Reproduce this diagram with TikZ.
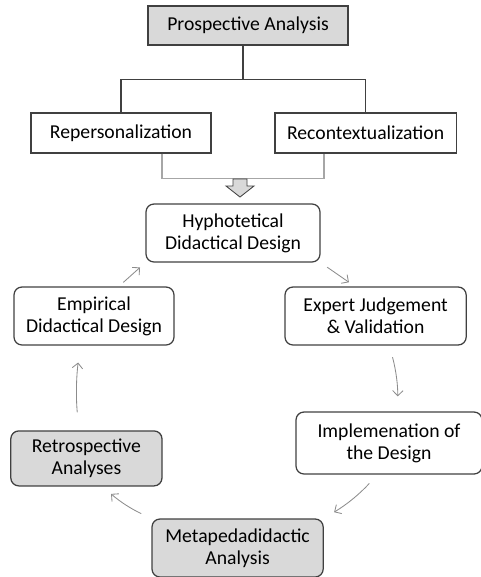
\documentclass[tikz,border=0pt]{standalone}
\usepackage{fontspec}
\setmainfont{Carlito}
\usetikzlibrary{arrows.meta}
\definecolor{boxline}{HTML}{404040}
\definecolor{boxfill}{HTML}{D9D9D9}
\definecolor{flowgray}{HTML}{8C8C8C}
\definecolor{joingray}{HTML}{A6A6A6}
\tikzset{
    plainbox/.style={draw=boxline,line width=0.9pt,align=center,inner sep=2pt,font=\fontsize{14}{15.5}\selectfont},
    roundbox/.style={plainbox,rounded corners=0.2cm},
    flow/.style={draw=flowgray,line width=0.6pt,-{Straight Barb[length=1.3mm,width=2.6mm]}}
}
\begin{document}
\begin{tikzpicture}
                \useasboundingbox (0,0) rectangle (12,-14.425);
                \node[plainbox,fill=boxfill,minimum width=5cm,minimum height=0.975cm] (pros) at (6.2,-0.64) {Prospective Analysis};
                \node[plainbox,minimum width=4.5cm,minimum height=1cm] (rep) at (3.025,-3.325) {Repersonalization};
                \node[plainbox,minimum width=4.53cm,minimum height=1cm] (rec) at (9.14,-3.325) {Recontextualization};
                \node[roundbox,minimum width=4.35cm,minimum height=1.45cm] (hyp) at (5.825,-5.825) {Hyphotetical\\Didactical Design};
                \node[roundbox,minimum width=4cm,minimum height=1.45cm] (emp) at (2.35,-7.9) {Empirical\\Didactical Design};
                \node[roundbox,minimum width=4.53cm,minimum height=1.45cm] (exp) at (9.39,-7.9) {Expert Judgement\\\& Validation};
                \node[roundbox,fill=boxfill,minimum width=3.78cm,minimum height=1.375cm] (ret) at (2.16,-11.46) {Retrospective\\Analyses};
                \node[roundbox,minimum width=4.65cm,minimum height=1.55cm] (imp) at (9.725,-11.075) {Implemenation of\\the Design};
                \node[roundbox,fill=boxfill,minimum width=4.28cm,minimum height=1.45cm] (meta) at (5.94,-13.7) {Metapedadidactic\\Analysis};
                \draw[boxline,line width=0.9pt] ([xshift=-0.125cm]pros.south) -- ++(0,-0.85) coordinate (fork);
                \draw[boxline,line width=0.9pt] (rep.north) |- (fork) -| (rec.north);
                \draw[joingray,line width=0.9pt] ([xshift=1.025cm]rep.south) -- ++(0,-0.625) -| ([xshift=-1.04cm]rec.south);
                \coordinate (drop) at (6,-4.475);
                \draw[boxline,fill=boxfill,line width=0.6pt] (drop) -- ++(0.175,0) -- ++(0,-0.175) -- ++(0.175,0) -- ++(-0.35,-0.275) -- ++(-0.35,0.275) -- ++(0.175,0) -- ++(0,0.175) -- cycle;
                \draw[flow,shorten <=0.15cm,shorten >=0.18cm] (emp.50) -- (hyp.south west);
                \draw[flow,shorten <=0.2cm,shorten >=0.18cm] (hyp.south east) -- (exp.125);
                \draw[flow,shorten <=0.3cm,shorten >=0.375cm] (exp.-65) to[bend left=8] (imp.75);
                \draw[flow,shorten <=0.3cm,shorten >=0.3cm] (imp.-110) to[bend left=8] (meta.north east);
                \draw[flow,shorten <=0.28cm,shorten >=0.28cm] (meta.north west) to[bend left=8] (ret.-60);
                \draw[flow,shorten <=0.45cm,shorten >=0.425cm] (ret.105) to[bend left=6] (emp.-115);
\end{tikzpicture}
\end{document}
